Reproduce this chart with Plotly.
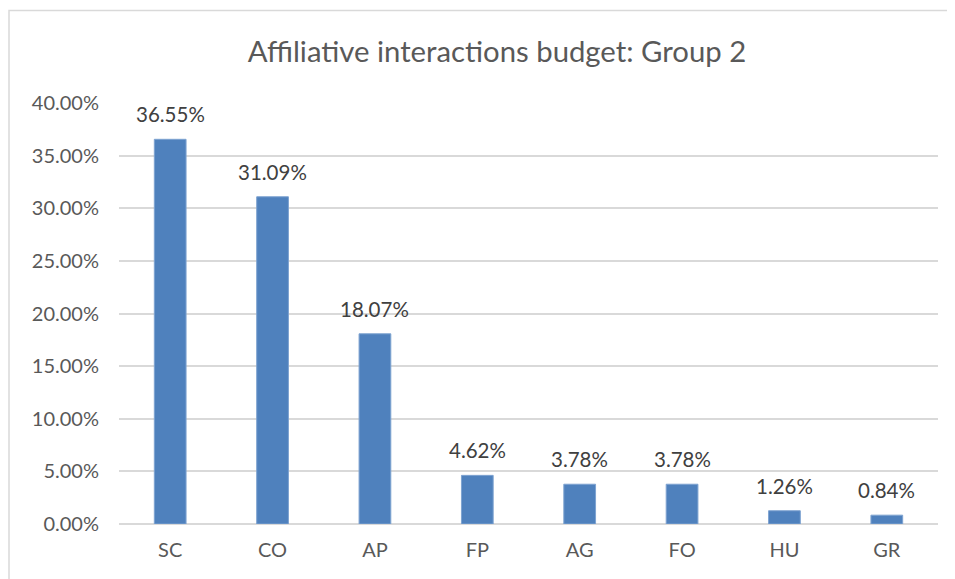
import plotly.graph_objects as go

# data
categories = ["SC", "CO", "AP", "FP", "AG", "FO", "HU", "GR"]
values = [0.3655, 0.3109, 0.1807, 0.0462, 0.0378, 0.0378, 0.0126, 0.0084]
y_ticks = [0, 0.05, 0.10, 0.15, 0.20, 0.25, 0.30, 0.35, 0.40]

font_name = "Lato"
grey = "#595959"

fig = go.Figure(go.Bar(
    x=categories,
    y=values,
    marker=dict(color="#4F81BD", line=dict(color="#7EA3D1", width=1)),
    showlegend=False,
    hoverinfo="x+y",
))

# value labels above each bar
for c, v in zip(categories, values):
    fig.add_annotation(x=c, y=v, text=f"{v*100:.2f}%", showarrow=False,
                       yanchor="bottom", yshift=11,
                       font=dict(family=font_name, size=20.5, color="#404040"))

# chart border (Excel style, runs off the right/bottom of the crop)
fig.add_shape(type="rect", xref="paper", yref="paper",
              x0=-0.1343, x1=1.05, y0=-0.2, y1=1.2197,
              line=dict(color="#D9D9D9", width=1.5), layer="below")

fig.update_layout(
    width=955, height=579,
    margin=dict(l=111, r=25, t=95, b=63),
    paper_bgcolor="white", plot_bgcolor="white",
    font=dict(family=font_name, color=grey),
    title=dict(text="Affiliative interactions budget: Group 2",
               x=0.512, xanchor="center", y=0.924, yanchor="middle",
               font=dict(family=font_name, size=29.3, color=grey)),
    bargap=0.69,
    xaxis=dict(showgrid=False, showline=False, ticks="",
               tickfont=dict(size=20, color=grey), ticklabelstandoff=12),
    yaxis=dict(range=[0, 0.4], tickvals=y_ticks, tickformat=".2%",
               showgrid=True, gridcolor="#D9D9D9", gridwidth=1.5,
               zeroline=True, zerolinecolor="#D9D9D9", zerolinewidth=1.5,
               showline=False, ticks="",
               tickfont=dict(size=20, color=grey), ticklabelstandoff=19),
)

fig.write_html("out.html")
